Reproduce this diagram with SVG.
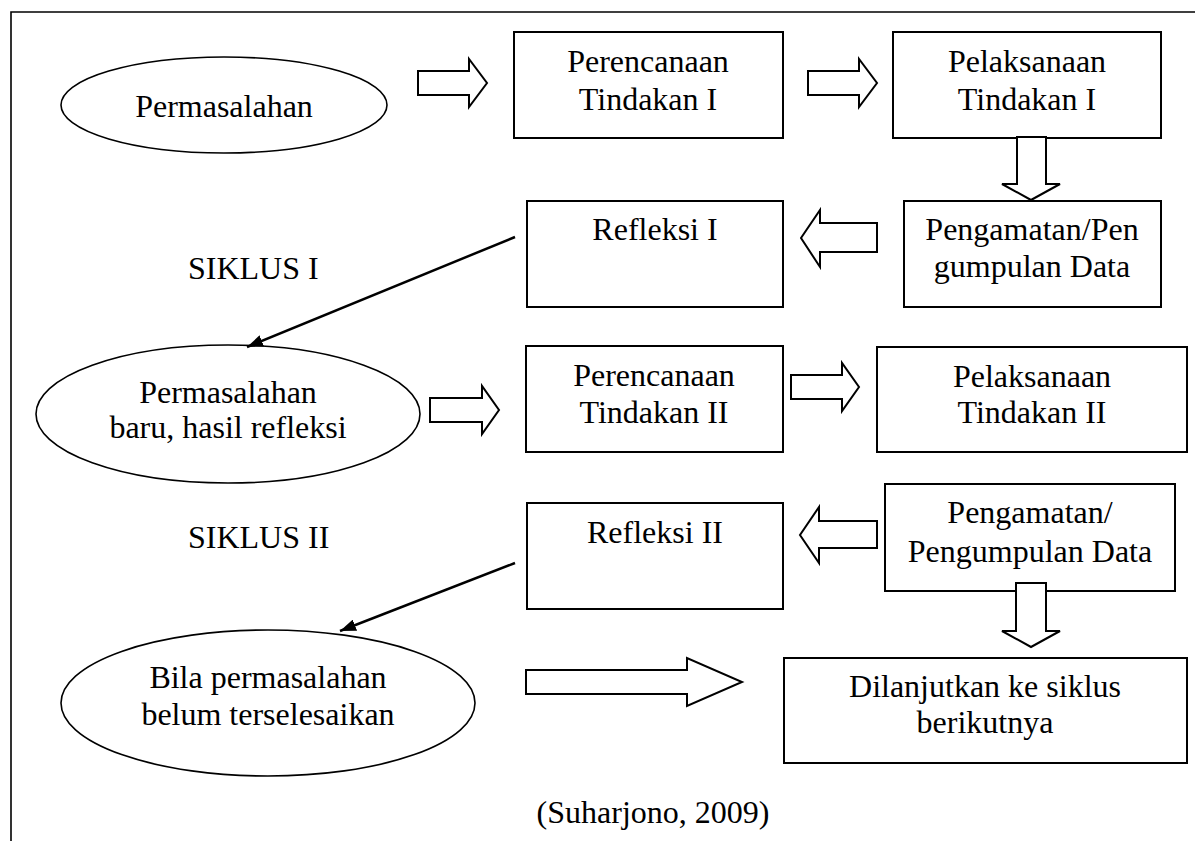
<svg xmlns="http://www.w3.org/2000/svg" width="1195" height="841" viewBox="0 0 1195 841">
<style>
.box{fill:#fff;stroke:#000;stroke-width:2}
.ell{fill:#fff;stroke:#000;stroke-width:1.6}
.blk{fill:#fff;stroke:#000;stroke-width:2;stroke-linejoin:miter}
.ln{fill:none;stroke:#000;stroke-width:2.5}
text{font-family:"Liberation Serif","Times New Roman",serif;font-size:32px;fill:#000;text-anchor:middle}
.st{text-anchor:start}
</style>
<defs>
<marker id="ah" markerUnits="userSpaceOnUse" markerWidth="18" markerHeight="12" refX="16" refY="6" orient="auto">
<path d="M0,0 L16,6 L0,12 Z" fill="#000"/>
</marker>
</defs>
<rect width="1195" height="841" fill="#fff"/>
<g id="frame"><path d="M11,841 V12 H1195" fill="none" stroke="#000" stroke-width="1.6"/></g>

<g id="n-permasalahan"><ellipse class="ell" cx="224" cy="105" rx="163" ry="48"/><text x="224" y="117">Permasalahan</text></g>
<g id="n-perencanaan1"><rect class="box" x="514" y="32" width="269" height="106"/><text x="648" y="72">Perencanaan</text><text x="648" y="110">Tindakan I</text></g>
<g id="n-pelaksanaan1"><rect class="box" x="893" y="32" width="268" height="106"/><text x="1027" y="72">Pelaksanaan</text><text x="1027" y="110">Tindakan I</text></g>
<g id="n-pengamatan1"><rect class="box" x="904" y="201" width="257" height="106"/><text x="1032" y="240">Pengamatan/Pen</text><text x="1032" y="277">gumpulan Data</text></g>
<g id="n-refleksi1"><rect class="box" x="527" y="201" width="256" height="106"/><text x="655" y="240">Refleksi I</text></g>
<g id="n-siklus1"><text class="st" x="188" y="279">SIKLUS I</text></g>
<g id="n-permasalahan-baru"><ellipse class="ell" cx="228" cy="414" rx="192" ry="69"/><text x="228" y="403">Permasalahan</text><text x="228" y="438">baru, hasil refleksi</text></g>
<g id="n-perencanaan2"><rect class="box" x="526" y="346" width="257" height="106"/><text x="654" y="386">Perencanaan</text><text x="654" y="423">Tindakan II</text></g>
<g id="n-pelaksanaan2"><rect class="box" x="877" y="347" width="310" height="105"/><text x="1032" y="387">Pelaksanaan</text><text x="1032" y="423">Tindakan II</text></g>
<g id="n-siklus2"><text class="st" x="188" y="548">SIKLUS II</text></g>
<g id="n-refleksi2"><rect class="box" x="527" y="503" width="256" height="106"/><text x="655" y="543">Refleksi II</text></g>
<g id="n-pengamatan2"><rect class="box" x="885" y="484" width="290" height="107"/><text x="1030" y="523">Pengamatan/</text><text x="1030" y="562">Pengumpulan Data</text></g>
<g id="n-bila"><ellipse class="ell" cx="268" cy="703" rx="207" ry="73"/><text x="268" y="688">Bila permasalahan</text><text x="268" y="725">belum terselesaikan</text></g>
<g id="n-dilanjutkan"><rect class="box" x="784" y="658" width="403" height="105"/><text x="985" y="697">Dilanjutkan ke siklus</text><text x="985" y="733">berikutnya</text></g>
<g id="n-sumber"><text x="653" y="823">(Suharjono, 2009)</text></g>

<g id="connectors">
<path class="blk" d="M418,71 H469 V59 L487,83 L469,107 V95 H418 Z"/>
<path class="blk" d="M808,71 H859 V59 L877,83 L859,107 V95 H808 Z"/>
<path class="blk" d="M1017,137 H1046 V184 H1060 L1031,200 L1002,184 H1017 Z"/>
<path class="blk" d="M877,223 H820 V210 L801,238 L820,267 V252 H877 Z"/>
<path class="blk" d="M430,398 H482 V386 L499,410 L482,434 V422 H430 Z"/>
<path class="blk" d="M791,375 H842 V363 L859,387 L842,411 V399 H791 Z"/>
<path class="blk" d="M877,521 H819 V507 L800,535 L819,563 V548 H877 Z"/>
<path class="blk" d="M1016,583 H1046 V631 H1060 L1031,647 L1002,631 H1016 Z"/>
<path class="blk" d="M526,670 H687 V658 L742,682 L687,706 V694 H526 Z"/>
<line class="ln" x1="515" y1="237" x2="247" y2="347" marker-end="url(#ah)"/>
<line class="ln" x1="515" y1="563" x2="340" y2="631" marker-end="url(#ah)"/>
</g>
</svg>
